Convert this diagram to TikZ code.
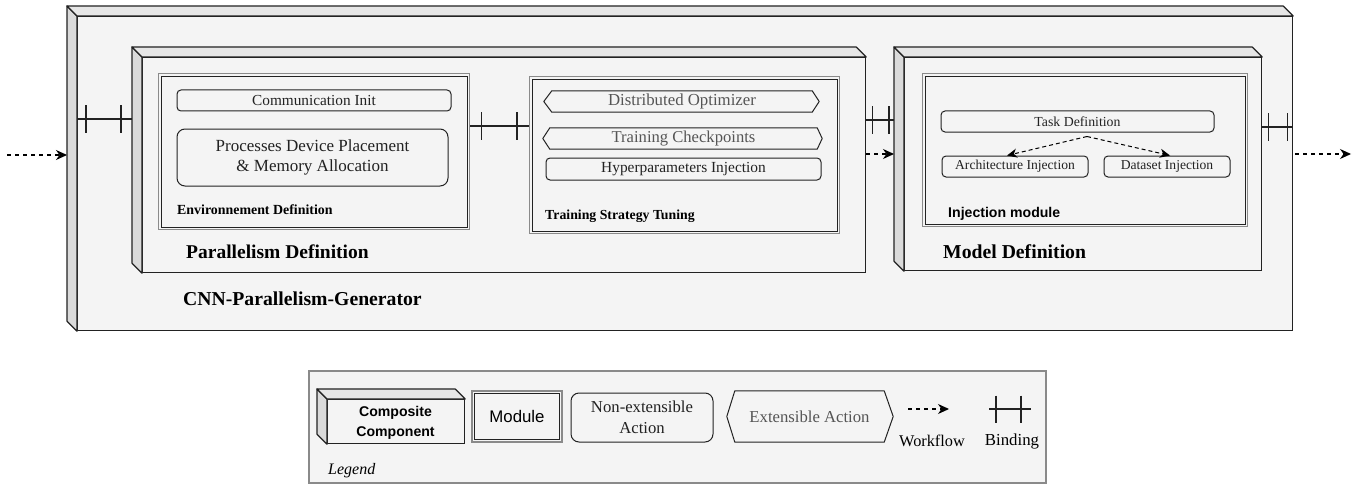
\documentclass[tikz,border=0pt]{standalone}
\usepackage{fontspec}
\setmainfont{Liberation Serif}
\setsansfont{Liberation Sans}
\usetikzlibrary{calc,arrows.meta}
\definecolor{bgc}{HTML}{F4F4F4}
\definecolor{topc}{HTML}{E6E6E6}
\definecolor{sidec}{HTML}{DADADA}
\definecolor{linec}{HTML}{222222}
\definecolor{modout}{HTML}{8A8A8A}
\definecolor{extc}{HTML}{555555}
\newcommand\fsz[2]{\fontsize{#1}{#2}\selectfont}
\newcommand\compfaces[1]{%
 \filldraw[sideface] (#1.north west) -- ++(-10,-10) -- ($(#1.south west)+(-10,-10)$) -- (#1.south west) -- cycle;
 \filldraw[topface] (#1.north west) -- ++(-10,-10) -- ($(#1.north east)+(-10,-10)$) -- (#1.north east) -- cycle;}
\newcommand\modinset[1]{\draw[modinner] ($(#1.north west)+(3,3)$) rectangle ($(#1.south east)+(-3,-3)$);}
\newcommand\hexa[3]{\draw[extline] (#1.north west) -- ($(#1.west)+(-#2,0)$) -- (#1.south west) -- (#1.south east) -- ($(#1.east)+(#3,0)$) -- (#1.north east) -- cycle;}
\newcommand\ticks[4]{%
 \draw[bind] ($(#1)+(#3,-13.5)$) -- ++(0,27);
 \draw[bind] ($(#2)+(-#4,-13.5)$) -- ++(0,27);}
\tikzset{
 x=1pt,y=-1pt,
 front/.style={draw=linec, line width=1.2pt, fill=bgc, anchor=north west, inner sep=0pt},
 topface/.style={draw=linec, line width=1.2pt, fill=topc, line join=round},
 sideface/.style={draw=linec, line width=1.2pt, fill=sidec, line join=round},
 module/.style={draw=modout, line width=1.2pt, fill=bgc, anchor=north west, inner sep=0pt},
 modinner/.style={draw=linec, line width=0.9pt},
 act/.style={draw=linec, line width=1pt, rounded corners=4pt, inner sep=0pt, text=linec},
 ext/.style={inner sep=0pt, text=extc},
 extline/.style={draw=linec, line width=1pt, line join=round},
 flow/.style={draw=black, line width=1.2pt, dash pattern=on 4pt off 4pt, -{Stealth[length=11pt,width=10pt,inset=3.5pt]}},
 flowsmall/.style={draw=black, line width=1pt, dash pattern=on 4pt off 3pt, -{Stealth[length=10pt,width=9pt,inset=3pt]}},
 bind/.style={draw=linec, line width=1.2pt},
 lbl/.style={anchor=west, inner sep=0pt, text=black},
}
\begin{document}
\begin{tikzpicture}
\useasboundingbox (0,0) rectangle (1356,484);
% outer composite
\node[front, minimum width=1215pt, minimum height=314pt] (outer) at (77,16) {};
\compfaces{outer}
\coordinate (outerB) at ($(outer.north west)+(-10,0)$);
% parallelism composite
\node[front, minimum width=723pt, minimum height=215pt] (par) at (142,57) {};
\compfaces{par}
\coordinate (parB) at ($(par.north west)+(-10,0)$);
% model composite
\node[front, minimum width=357pt, minimum height=213pt] (model) at (904,57) {};
\compfaces{model}
\coordinate (modB) at ($(model.north west)+(-10,0)$);
% modules
\node[module, minimum width=311pt, minimum height=156pt] (env) at (158,73) {};
\modinset{env}
\node[module, minimum width=310pt, minimum height=157pt] (train) at (529,76) {};
\modinset{train}
\node[module, minimum width=325pt, minimum height=153pt] (inj) at (922,73) {};
\modinset{inj}
% env actions
\node[act, minimum width=274pt, minimum height=21pt, font=\fsz{15.3}{18}] (comm) at (314,100.5) {Communication Init};
\node[act, rounded corners=8pt, minimum width=271pt, minimum height=57pt, align=center, font=\fsz{17}{20}] (proc) at (312.5,157.5) {Processes Device Placement\\\& Memory Allocation};
\node[lbl, font=\fsz{13.9}{16}\bfseries] (envl) at (177,210) {Environnement Definition};
% training actions
\node[ext, minimum width=260pt, minimum height=21pt, font=\fsz{16.8}{19}] (dopt) at (682,101.5) {Distributed Optimizer};
\hexa{dopt}{8}{7}
\node[ext, minimum width=267pt, minimum height=21pt, font=\fsz{16.6}{19}] (tcp) at (683.5,138.5) {Training Checkpoints};
\hexa{tcp}{7}{5}
\node[act, minimum width=275pt, minimum height=22pt, font=\fsz{15.4}{18}] (hyp) at (683.5,169) {Hyperparameters Injection};
\node[lbl, font=\fsz{13.8}{16}\bfseries] (trainl) at (545,216) {Training Strategy Tuning};
% injection actions
\node[act, minimum width=273pt, minimum height=21pt, font=\fsz{13.8}{16}] (task) at (1077.5,121.5) {Task Definition};
\node[act, minimum width=146pt, minimum height=21pt, font=\fsz{13.6}{16}] (arch) at (1015,166.5) {Architecture Injection};
\node[act, minimum width=126pt, minimum height=21pt, font=\fsz{13.6}{16}] (data) at (1167,166.5) {Dataset Injection};
\draw[flowsmall] ([xshift=9.5pt,yshift=-4pt]task.south) -- ([xshift=-8pt]arch.north);
\draw[flowsmall] ([xshift=9.5pt,yshift=-4pt]task.south) -- ([xshift=3pt]data.north);
\node[lbl, font=\fsz{14.1}{16}\sffamily\bfseries] (injl) at (948,214) {Injection module};
% composite labels
\node[lbl, font=\fsz{19.5}{22}\bfseries] (parl) at (186,252) {Parallelism Definition};
\node[lbl, font=\fsz{19.7}{22}\bfseries] (modl) at (943,252) {Model Definition};
\node[lbl, font=\fsz{19.7}{22}\bfseries] (cnnl) at (183,299) {CNN-Parallelism-Generator};
% bindings
\coordinate (yb1) at (0,119);
\coordinate (yb2) at (0,126);
\coordinate (yb3) at (0,120);
\coordinate (yb4) at (0,127);
\coordinate (b1a) at (outer.west |- yb1); \coordinate (b1b) at (parB |- yb1);
\draw[bind] (b1a) -- (b1b); \ticks{b1a}{b1b}{9}{11}
\coordinate (b2a) at (env.east |- yb2); \coordinate (b2b) at (train.west |- yb2);
\draw[bind] (b2a) -- (b2b); \ticks{b2a}{b2b}{11}{12}
\coordinate (b3a) at (par.east |- yb3); \coordinate (b3b) at (modB |- yb3);
\draw[bind] (b3a) -- (b3b); \ticks{b3a}{b3b}{6}{5}
\coordinate (b4a) at (model.east |- yb4); \coordinate (b4b) at (outer.east |- yb4);
\draw[bind] (b4a) -- (b4b); \ticks{b4a}{b4b}{6}{6}
% workflow
\coordinate (inS) at (7,155);
\draw[flow] (inS) -- (outerB |- inS);
\coordinate (ym) at (0,154);
\draw[flow] (par.east |- ym) -- (modB |- ym);
\coordinate (outS) at (1351,154);
\draw[flow] ([xshift=2pt]outer.east |- outS) -- (outS);
% legend
\node[draw=modout, line width=1.2pt, fill=bgc, minimum width=737pt, minimum height=112pt, inner sep=0pt] (legend) at (677.5,427) {};
\node[front, minimum width=137pt, minimum height=44pt] (lcomp) at (327,399) {};
\compfaces{lcomp}
\node[inner sep=0pt, align=center, font=\fsz{14.1}{20}\sffamily\bfseries] (lcompt) at (395.5,423) {Composite\\Component};
\node[module, anchor=center, minimum width=90pt, minimum height=51pt, font=\fsz{16.8}{19}\sffamily] (lmod) at (517,416.5) {Module};
\modinset{lmod}
\node[act, rounded corners=8pt, minimum width=142pt, minimum height=49pt, align=center, font=\fsz{16.7}{21}] (lnon) at (642,417.5) {Non-extensible\\Action};
\node[ext, minimum width=149pt, minimum height=51pt, font=\fsz{16.7}{19}] (lext) at (809.5,416.5) {Extensible Action};
\hexa{lext}{8}{9}
\coordinate (lwA) at (908,409); \coordinate (lwB) at (949,409);
\draw[flow] (lwA) -- (lwB);
\node[inner sep=0pt, font=\fsz{16.3}{19}] (lwt) at (932,441) {Workflow};
\coordinate (lbA) at (989,409); \coordinate (lbB) at (1031,409);
\draw[bind] (lbA) -- (lbB); \ticks{lbA}{lbB}{7}{10}
\node[inner sep=0pt, font=\fsz{16.8}{19}] (lbt) at (1012,441) {Binding};
\node[lbl, font=\fsz{16}{19}\itshape] (legt) at (328,471) {Legend};
\end{tikzpicture}
\end{document}
